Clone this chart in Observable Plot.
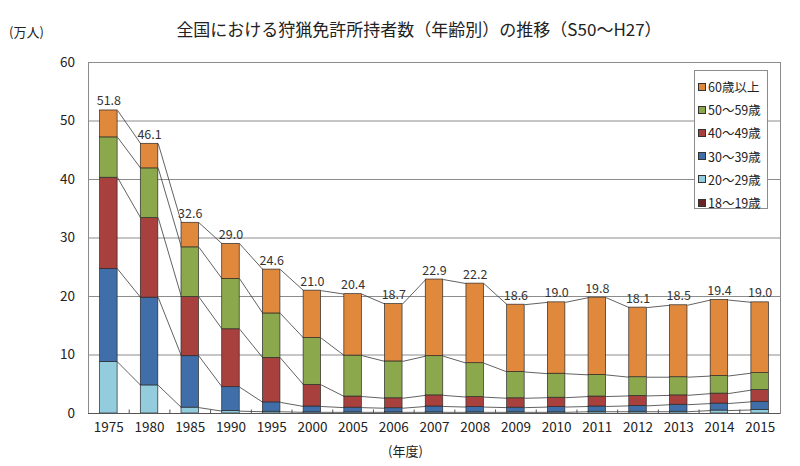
<!DOCTYPE html>
<html>
<head>
<meta charset="utf-8">
<script src="https://cdn.jsdelivr.net/npm/d3@7"></script>
<script src="https://cdn.jsdelivr.net/npm/@observablehq/plot@0.6"></script>
<style>
  html, body { margin: 0; padding: 0; background: #fff; }
  #wrap { position: relative; width: 800px; height: 466px; font-family: "Noto Sans CJK JP", "Noto Sans", sans-serif; color: #222; }
  #wrap svg { position: absolute; left: 0; top: 0; }
  .ovl { position: absolute; white-space: nowrap; }
  #title { left: 0; width: 838px; top: 16px; text-align: center; font-size: 17px; }
  #unit { left: 9px; top: 22px; font-size: 13px; }
  #xlab { left: 388px; top: 441px; font-size: 13px; }
  #legend { left: 694px; top: 70px; width: 74px; height: 139px; background: #fff; border: 1px solid #8c8c8c; box-sizing: border-box; padding-top: 4px; }
  .lg { display: flex; align-items: center; height: 23.2px; font-size: 12.5px; padding-left: 3px; }
  .sw { width: 6px; height: 6px; border: 1px solid #333; margin-right: 2px; flex: none; }
</style>
</head>
<body>
<div id="wrap">
  <div id="title" class="ovl">全国における狩猟免許所持者数（年齢別）の推移（S50～H27）</div>
  <div id="unit" class="ovl">(万人)</div>
  <div id="xlab" class="ovl">(年度)</div>
  <div id="legend" class="ovl"></div>
</div>
<script>
const years = [1975,1980,1985,1990,1995,2000,2005,2006,2007,2008,2009,2010,2011,2012,2013,2014,2015];
const seriesNames = ["18～19歳","20～29歳","30～39歳","40～49歳","50～59歳","60歳以上"];
const seriesColors = ["#6a2427","#93cddd","#3f6ea8","#a8403e","#8ca84c","#e0883c"];

const age18_19 = [0,0,0,0,0,0,0,0,0,0,0,0,0,0,0,0,0];
const age20_29 = [8.8,4.8,1.0,0.4,0.3,0.2,0.2,0.2,0.2,0.2,0.2,0.2,0.3,0.3,0.3,0.5,0.6];
const age30_39 = [15.9,15.0,8.8,4.1,1.6,1.0,0.8,0.7,1.0,0.9,0.8,0.9,0.9,1.0,1.2,1.2,1.4];
const age40_49 = [15.6,13.6,10.1,9.9,7.6,3.7,1.9,1.7,1.9,1.7,1.6,1.6,1.7,1.7,1.6,1.7,2.0];
const age50_59 = [6.9,8.5,8.5,8.6,7.6,8.0,7.0,6.3,6.7,5.8,4.5,4.1,3.7,3.2,3.1,3.0,2.9];
const age60plus = [4.6,4.2,4.2,6.0,7.5,8.1,10.5,9.8,13.1,13.6,11.5,12.2,13.2,11.9,12.3,13.0,12.1];
const totals = [51.8,46.1,32.6,29.0,24.6,21.0,20.4,18.7,22.9,22.2,18.6,19.0,19.8,18.1,18.5,19.4,19.0];
const yTicks = [0,10,20,30,40,50,60];

const seriesValues = [age18_19, age20_29, age30_39, age40_49, age50_59, age60plus];

// legend (top to bottom: oldest first)
const legend = document.getElementById("legend");
for (let k = seriesNames.length - 1; k >= 0; k--) {
  const row = document.createElement("div");
  row.className = "lg";
  row.innerHTML = `<span class="sw" style="background:${seriesColors[k]}"></span><span>${seriesNames[k]}</span>`;
  legend.appendChild(row);
}

const w = 0.215;
const stacked = [];
const cum = years.map(() => [0]);
years.forEach((yr, i) => {
  let c = 0;
  seriesValues.forEach((vals, k) => {
    stacked.push({i, k, y1: c, y2: c + vals[i]});
    c += vals[i];
    cum[i].push(c);
  });
});
const links = [];
for (let lvl = 1; lvl <= seriesValues.length; lvl++) {
  for (let i = 0; i < years.length - 1; i++) {
    links.push({x1: i + w, x2: i + 1 - w, y1: cum[i][lvl], y2: cum[i + 1][lvl]});
  }
}
const labels = years.map((yr, i) => ({i, total: totals[i]}));
const idx = years.map((_, i) => i);
const mids = years.slice(0, -1).map((_, i) => i + 0.5);

const chart = Plot.plot({
  width: 800,
  height: 466,
  marginLeft: 88,
  marginRight: 20,
  marginTop: 62,
  marginBottom: 53,
  style: {fontFamily: '"Noto Sans CJK JP", "Noto Sans", sans-serif', color: "#222", background: "transparent"},
  x: {type: "linear", domain: [-0.5, years.length - 0.5], axis: null},
  y: {domain: [0, 60], axis: null},
  marks: [
    Plot.gridY(yTicks.slice(1), {stroke: "#8c8c8c", strokeOpacity: 1, strokeWidth: 1}),
    Plot.link(links, {x1: "x1", x2: "x2", y1: "y1", y2: "y2", stroke: "#3a3a3a", strokeWidth: 0.8}),
    Plot.rect(stacked, {x1: d => d.i - w, x2: d => d.i + w, y1: "y1", y2: "y2", fill: d => seriesColors[d.k], stroke: "#2a2a2a", strokeWidth: 0.7}),
    Plot.frame({stroke: "#8c8c8c"}),
    Plot.ruleY([0], {stroke: "#555"}),
    Plot.ruleX(mids, {y1: 0, y2: 0.6, stroke: "#555"}),
    Plot.axisY({ticks: yTicks, tickSize: 0, tickPadding: 13.5, fontSize: 13.5}),
    Plot.axisX({ticks: idx, tickFormat: i => String(years[i]), tickSize: 0, tickPadding: 9, fontSize: 13.5}),
    Plot.text(labels, {x: "i", y: "total", dy: -9, text: d => d.total.toFixed(1), fontSize: 12.5, fill: "#333"})
  ]
});
document.getElementById("wrap").prepend(chart);
</script>
</body>
</html>
